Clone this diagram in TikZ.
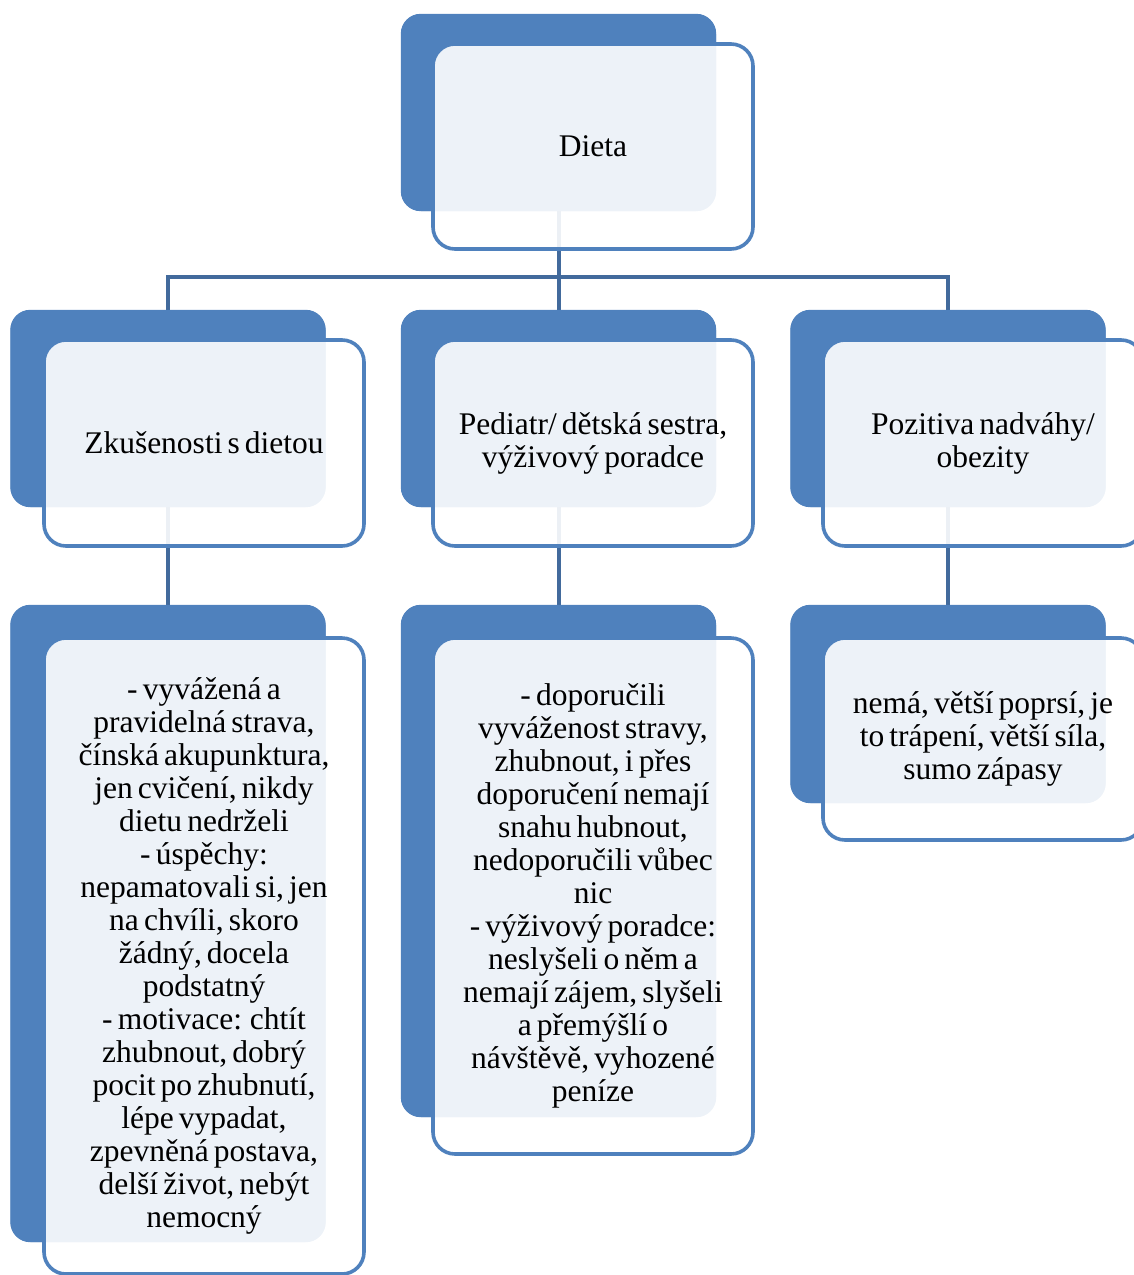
\documentclass[tikz,border=0pt]{standalone}
\usepackage{fontspec}
\setmainfont[WordSpace=0.65]{Liberation Serif}
\definecolor{accent}{RGB}{79,129,189}
\definecolor{connc}{RGB}{66,106,156}
\tikzset{
  backbox/.style={draw=none, fill=accent, rounded corners=20pt, inner sep=0pt, minimum width=315pt},
  frontbox/.style={draw=accent, line width=3.6pt, fill=white, fill opacity=0.9, text opacity=1,
    rounded corners=22pt, inner sep=0pt, minimum width=320pt, align=center,
    font=\fontsize{31.5}{33}\selectfont},
  conn/.style={draw=connc, line width=4pt},
}
\begin{document}
\begin{tikzpicture}[x=1pt,y=-1pt]
\useasboundingbox (0,0) rectangle (1134,1275);
% back boxes (placed first to name them)
\node[backbox, minimum height=197pt] (b0) at (558.5,112.5) {};
\node[backbox, minimum height=197pt] (b1) at (168,408.5) {};
\node[backbox, minimum height=197pt] (b2) at (558.5,408.5) {};
\node[backbox, minimum height=197pt] (b3) at (948,408.5) {};
\node[backbox, minimum height=637pt] (c1) at (168,923.5) {};
\node[backbox, minimum height=512pt] (c2) at (558.5,861) {};
\node[backbox, minimum height=198pt] (c3) at (948,704) {};
% connectors
\draw[conn] (b0.south) -- (b2.north);
\draw[conn] (b1.north) -- ++(0,-33) coordinate (jl) -- (jl -| b3.north) -- (b3.north);
\draw[conn] (b1.south) -- (c1.north);
\draw[conn] (b2.south) -- (c2.north);
\draw[conn] (b3.south) -- (c3.north);
% back boxes over connectors
\foreach \n in {b0,b1,b2,b3,c1,c2,c3}
  \fill[accent, rounded corners=20pt] (\n.south west) rectangle (\n.north east);
% front boxes
\node[frontbox, minimum height=205pt] (f0) at (593,146.5) {Dieta};
\node[frontbox, minimum height=206pt] (f1) at (204,443) {Zkušenosti s dietou};
\node[frontbox, minimum height=206pt] (f2) at (593,443) {Pediatr/ dětská sestra,\\výživový poradce};
\node[frontbox, minimum height=206pt] (f3) at (983,443) {Pozitiva nadváhy/\\obezity};
\node[frontbox, minimum height=636pt] (g1) at (204,956) {- vyvážená a\\pravidelná strava,\\čínská akupunktura,\\jen cvičení, nikdy\\dietu nedrželi\\- úspěchy:\\nepamatovali si, jen\\na chvíli, skoro\\žádný, docela\\podstatný\\- motivace: chtít\\zhubnout, dobrý\\pocit po zhubnutí,\\lépe vypadat,\\zpevněná postava,\\delší život, nebýt\\nemocný};
\node[frontbox, minimum height=516pt] (g2) at (593,896) {- doporučili\\vyváženost stravy,\\zhubnout, i přes\\doporučení nemají\\snahu hubnout,\\nedoporučili vůbec\\nic\\- výživový poradce:\\neslyšeli o něm a\\nemají zájem, slyšeli\\a přemýšlí o\\návštěvě, vyhozené\\peníze};
\node[frontbox, minimum height=202pt] (g3) at (983,739) {nemá, větší poprsí, je\\to trápení, větší síla,\\sumo zápasy};
\end{tikzpicture}
\end{document}
